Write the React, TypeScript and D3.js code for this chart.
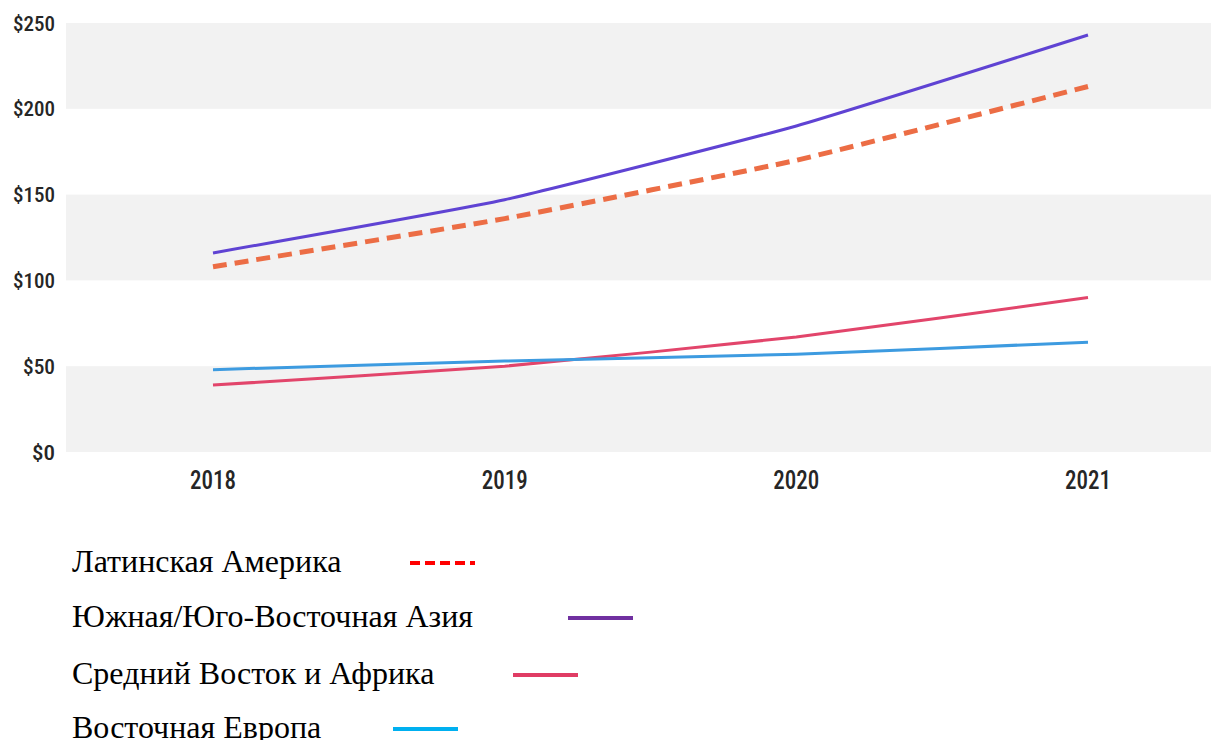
import React from "react";
import * as d3 from "d3";

const years = ["2018", "2019", "2020", "2021"];
const yTicks = [0, 50, 100, 150, 200, 250];
const latinAmerica = [108, 136, 170, 213];
const southAsia = [116, 147, 190, 243];
const middleEastAfrica = [39, 50, 67, 90];
const easternEurope = [48, 53, 57, 64];

const seriesNames = [
  "Латинская Америка",
  "Южная/Юго-Восточная Азия",
  "Средний Восток и Африка",
  "Восточная Европа",
];

const W = 1211;
const H = 740;

export default function App() {
  const x = d3.scalePoint<string>().domain(years).range([213, 1088]);
  const y = d3.scaleLinear().domain([0, 250]).range([452, 23]);
  const line = d3
    .line<number>()
    .x((_, i) => x(years[i]) as number)
    .y((d) => y(d))
    .curve(d3.curveCardinal.tension(0.6));

  const series = [
    { name: seriesNames[0], data: latinAmerica, color: "#ec6d45", width: 5, dash: "14 8" },
    { name: seriesNames[1], data: southAsia, color: "#5f43d3", width: 3, dash: null },
    { name: seriesNames[2], data: middleEastAfrica, color: "#e2456b", width: 3, dash: null },
    { name: seriesNames[3], data: easternEurope, color: "#3d9be0", width: 3, dash: null },
  ];

  const legend = [
    { name: seriesNames[0], color: "#ff0000", dash: "10 5", x0: 410, x1: 475, ly: 563 },
    { name: seriesNames[1], color: "#7030a0", dash: null, x0: 568, x1: 633, ly: 618 },
    { name: seriesNames[2], color: "#e03c64", dash: null, x0: 513, x1: 578, ly: 675 },
    { name: seriesNames[3], color: "#00b0f0", dash: null, x0: 393, x1: 458, ly: 729 },
  ];

  const condensed = "'Roboto Condensed', 'Liberation Sans Narrow', 'DejaVu Sans Condensed', sans-serif";

  const bands = [0, 100, 200];

  return (
    <svg
      width={W}
      height={H}
      style={{ position: "absolute", left: 0, top: 0, background: "#ffffff" }}
    >
      {bands.map((b) => (
        <rect
          key={b}
          x={66}
          width={W - 66}
          y={y(b + 50)}
          height={y(b) - y(b + 50)}
          fill="#f2f2f2"
        />
      ))}
      {yTicks.map((t) => (
        <text
          key={t}
          x={55}
          y={y(t)}
          dy="0.36em"
          textAnchor="end"
          fontFamily={condensed}
          fontSize={21}
          fontWeight={500}
          fill="#262626"
          style={{ fontStretch: "condensed" }}
          textLength={t === 0 ? 23 : t < 100 ? 32 : 42}
          lengthAdjust="spacingAndGlyphs"
        >
          {"$" + t}
        </text>
      ))}
      {years.map((yr) => (
        <text
          key={yr}
          x={x(yr)}
          y={489}
          textAnchor="middle"
          fontFamily={condensed}
          fontSize={25}
          fontWeight={500}
          fill="#262626"
          style={{ fontStretch: "condensed" }}
          textLength={46}
          lengthAdjust="spacingAndGlyphs"
        >
          {yr}
        </text>
      ))}
      {series.map((s) => (
        <path
          key={s.name}
          d={line(s.data) || ""}
          fill="none"
          stroke={s.color}
          strokeWidth={s.width}
          strokeDasharray={s.dash || undefined}
        />
      ))}
      {legend.map((l) => (
        <g key={l.name}>
          <text
            x={72}
            y={l.ly + 9}
            fontFamily="'Liberation Serif', 'Times New Roman', serif"
            fontSize={32}
            fill="#000"
          >
            {l.name}
          </text>
          <line
            x1={l.x0}
            x2={l.x1}
            y1={l.ly}
            y2={l.ly}
            stroke={l.color}
            strokeWidth={4}
            strokeDasharray={l.dash || undefined}
          />
        </g>
      ))}
    </svg>
  );
}
